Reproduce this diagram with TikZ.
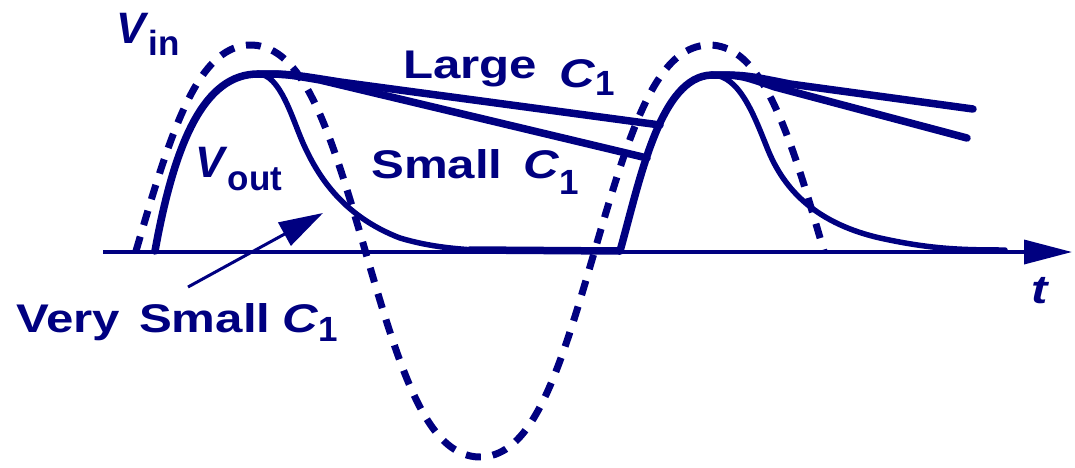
\documentclass[tikz,border=0pt]{standalone}
\usepackage{fontspec}
\setmainfont{Liberation Sans}
\newfontfamily\lblfamily[FakeStretch=1.23]{Liberation Sans}
\newfontfamily\subfamily{Liberation Sans}
\usetikzlibrary{arrows.meta}
\definecolor{nv}{RGB}{0,0,128}
\newcommand{\mylbl}{\lblfamily\bfseries\fontsize{40}{48}\selectfont}
\newcommand{\myvfont}{\subfamily\bfseries\fontsize{44}{50}\selectfont}
\newcommand{\mysub}[2][10pt]{\raisebox{-#1}{\subfamily\bfseries\fontsize{35}{40}\selectfont #2}}
\tikzset{
  vin/.style={nv, line width=7pt, dash pattern=on 15pt off 12pt},
  vout/.style={nv, line width=7.5pt, line cap=round, line join=round},
  decay/.style={nv, line width=5.5pt, line cap=round, line join=round},
  axisline/.style={nv, line width=3.5pt, -{Triangle[length=48pt,width=24pt]}},
  ptr/.style={nv, line width=3pt, -{Triangle[length=44pt,width=26pt]}},
  lbl/.style={text=nv, inner sep=0pt, anchor=base west, font=\mylbl},
}
\begin{document}
\begin{tikzpicture}[x=1pt, y=-1pt]
\useasboundingbox (0,0) rectangle (1075,467);
% coordinates
\coordinate (ax0) at (103,252);
\coordinate (ax1) at (1072,252);
\coordinate (pk1) at (258,74);
\coordinate (pk2) at (712,75);
\coordinate (ptrs) at (188,287);
\coordinate (ptrt) at (323,213);
% time axis
\draw[axisline] (ax0) -- (ax1);
% V_in (dashed, slightly flat-topped sine)
\draw[vin] plot[domain=136:824, samples=200, smooth]
  (\x, {251 - 206*(sin((\x-136)/229.3*180) + 0.05*sin(3*(\x-136)/229.3*180))/0.95});
% V_out rises
\draw[vout] (155,251) .. controls (175,140) and (205,74) .. (pk1);
\draw[vout] (470,250) -- (620,251) .. controls (640,180) and (660,76) .. (pk2);
% Large C1
\draw[vout] (pk1) .. controls (290,74) .. (340,82) -- (660,125);
\draw[vout] (pk2) .. controls (745,75) .. (790,84) -- (973,109);
% Small C1
\draw[vout] (pk1) .. controls (285,74) .. (320,80) -- (647,158);
\draw[vout] (pk2) .. controls (740,75) .. (775,87) -- (967,138);
% Very small C1
\draw[decay] (pk1) .. controls (280,74) and (292,118) .. (303,143)
  .. controls (316,172) and (340,215) .. (400,238)
  .. controls (430,247) and (460,250) .. (500,251);
\draw[decay] (pk2) .. controls (740,75) and (755,118) .. (768,150)
  .. controls (782,184) and (810,222) .. (880,238)
  .. controls (930,249) and (960,250) .. (1005,250);
% labels
\node[lbl] (vinl) at (116,43) {\myvfont\textit{V}\mysub[12pt]{in}};
\node[lbl] (voutl) at (195,177) {\myvfont\textit{V}\mysub[13pt]{out}};
\node[lbl] (large) at (403,78) {Large\hspace{22pt}\raisebox{-9pt}{\textit{C}}\mysub[17pt]{1}};
\node[lbl] (small) at (371,178) {Small\hspace{21pt}\textit{C}\mysub[16pt]{1}};
\node[lbl] (vsmall) at (16,332) {Very\hspace{19pt}Small\hspace{12pt}\textit{C}\mysub[9pt]{1}};
\node[lbl] (tl) at (1031,303) {\textit{t}};
% pointer
\draw[ptr] (ptrs) -- (ptrt);
\end{tikzpicture}
\end{document}
